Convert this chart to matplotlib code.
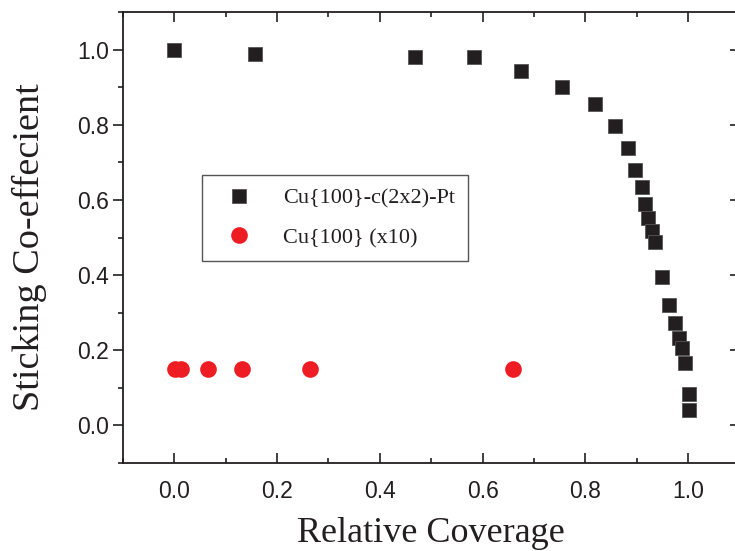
import matplotlib
matplotlib.use("Agg")
import matplotlib.pyplot as plt
from matplotlib.ticker import MultipleLocator

# Cu{100}-c(2x2)-Pt
pt_x = [0.0, 0.156, 0.468, 0.583, 0.674, 0.754, 0.819, 0.858, 0.883, 0.897,
        0.910, 0.916, 0.922, 0.930, 0.936, 0.949, 0.963, 0.975, 0.982, 0.988,
        0.994, 1.002, 1.002]
pt_y = [1.0, 0.989, 0.979, 0.979, 0.944, 0.901, 0.856, 0.797, 0.739, 0.680,
        0.635, 0.589, 0.552, 0.517, 0.488, 0.395, 0.320, 0.272, 0.232, 0.205,
        0.165, 0.083, 0.040]

# Cu{100} (x10)
cu_x = [0.001, 0.013, 0.066, 0.131, 0.264, 0.660]
cu_y = [0.15, 0.15, 0.15, 0.15, 0.15, 0.15]

ticks = [0.0, 0.2, 0.4, 0.6, 0.8, 1.0]

dark = "#231f20"
rouge = "#ee1d23"

fig = plt.figure(figsize=(7.35, 5.51), dpi=100)
ax = fig.add_axes([0.1673, 0.1597, 0.8389, 0.8185])

ax.plot(pt_x, pt_y, "s", color=dark, markersize=10.5, markeredgecolor="#555555",
        markeredgewidth=0.6, label="Cu{100}-c(2x2)-Pt", zorder=3)
ax.plot(cu_x, cu_y, "o", color=rouge, markersize=12, markeredgewidth=0,
        label="Cu{100} (x10)", zorder=3)

ax.set_xlim(-0.1, 1.1)
ax.set_ylim(-0.1, 1.1)
ax.set_xticks(ticks)
ax.set_yticks(ticks)
ax.xaxis.set_minor_locator(MultipleLocator(0.1))
ax.yaxis.set_minor_locator(MultipleLocator(0.1))

for s in ax.spines.values():
    s.set_color(dark)
    s.set_linewidth(1.3)

ax.tick_params(axis="x", which="both", direction="in", top=True, bottom=True,
               color=dark, width=1.2)
ax.tick_params(axis="y", which="both", direction="out", left=True, right=False,
               color=dark, width=1.2)
ax.tick_params(which="major", length=7)
ax.tick_params(which="minor", length=3.5)
ax.tick_params(axis="x", which="major", pad=12, labelsize=16.5, labelcolor=dark)
ax.tick_params(axis="y", which="major", pad=3, labelsize=16.5, labelcolor=dark)
for lab in ax.get_xticklabels() + ax.get_yticklabels():
    lab.set_fontfamily("Liberation Sans")

# ticks du cote droit, vers l'interieur
droite = ax.secondary_yaxis("right")
droite.set_yticks(ticks)
droite.yaxis.set_minor_locator(MultipleLocator(0.1))
droite.tick_params(which="both", direction="in", color=dark, width=1.2, labelright=False)
droite.tick_params(which="major", length=7)
droite.tick_params(which="minor", length=3.5)
droite.spines["right"].set_color(dark)
droite.spines["right"].set_linewidth(1.3)

ax.set_xlabel("Relative Coverage", fontsize=26, family="Liberation Serif",
              color=dark, labelpad=10)
ax.set_ylabel("Sticking Co-effecient", fontsize=27.5, family="Liberation Serif",
              color=dark)
ax.yaxis.set_label_coords(-0.124, 0.478)

leg = ax.legend(loc="upper left", bbox_to_anchor=(0.128, 0.639), borderaxespad=0,
                numpoints=1, fancybox=False, framealpha=1, edgecolor="#555555",
                prop={"family": "Liberation Serif", "size": 16},
                handlelength=2.13, handletextpad=0.91, borderpad=0.6,
                labelspacing=0.85, labelcolor=dark)
leg.get_frame().set_linewidth(1.0)
leg.legend_handles[0].set_markersize(10)
leg.legend_handles[1].set_markersize(12)

fig.savefig("out.png", dpi=100)
